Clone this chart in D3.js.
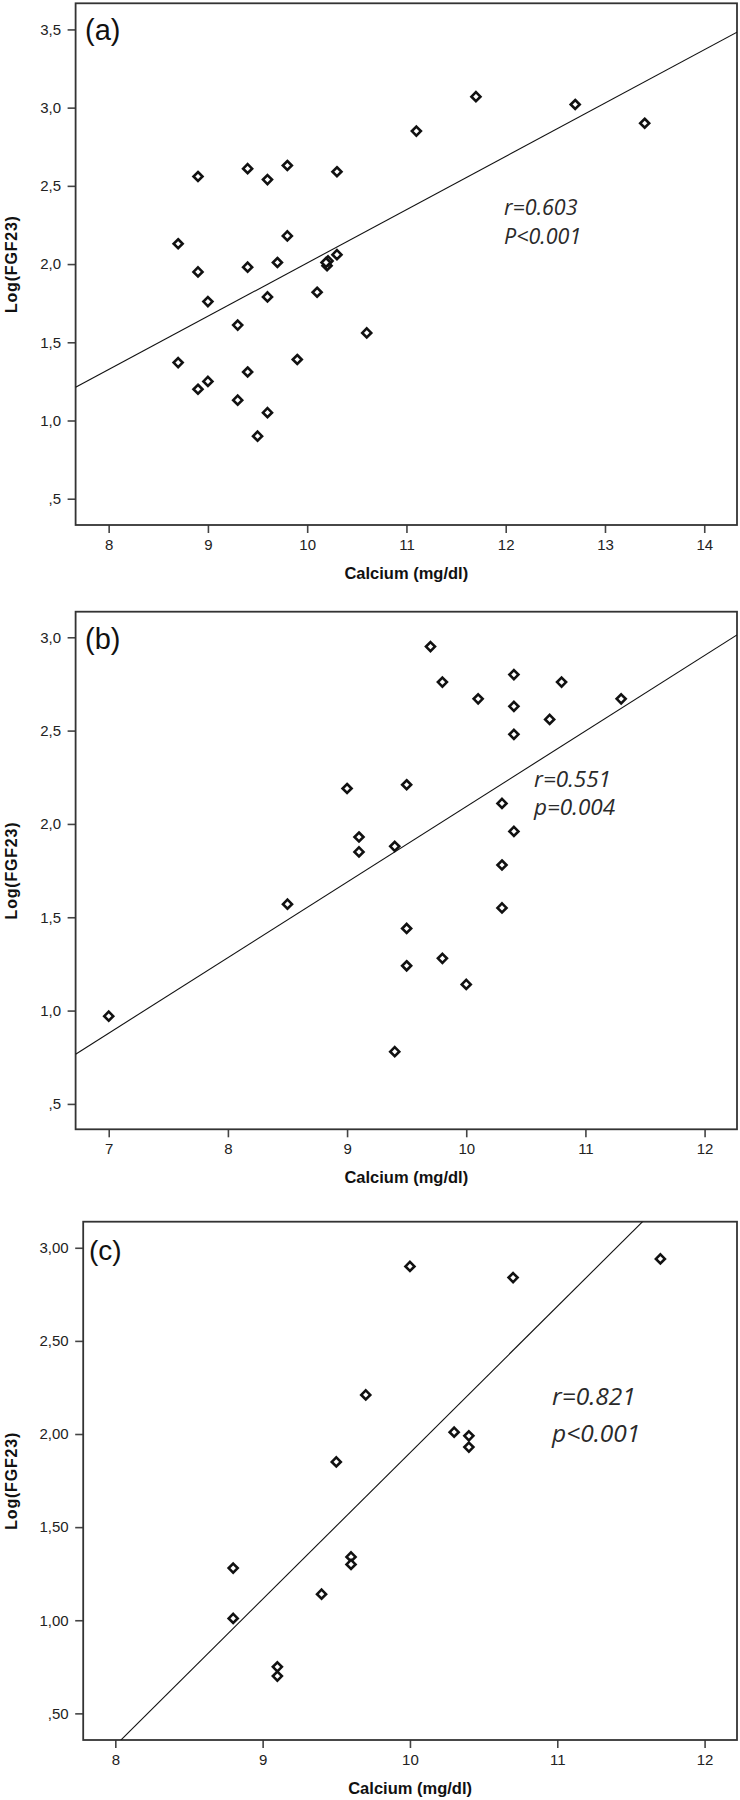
<!DOCTYPE html>
<html>
<head>
<meta charset="utf-8">
<script src="https://cdn.jsdelivr.net/npm/d3@7"></script>
<style>
  html, body { margin: 0; padding: 0; background: #fff; }
  svg { display: block; }
  .tick text { font-family: "Liberation Sans", Arial, sans-serif; font-size: 15px; fill: #222; }
  .tick line { stroke: #444; stroke-width: 1.6; }
</style>
</head>
<body>
<svg id="chart" width="740" height="1800"></svg>
<script>
// ---------- Panel (a) ----------
const calciumA = [11.7, 12.7, 13.4, 11.1, 8.9, 9.4, 9.6, 9.8, 10.3, 8.7, 9.8, 8.9, 9.4, 9.7, 10.2, 10.21, 10.19, 10.3,
                  9.0, 9.6, 10.1, 9.3, 10.6, 8.7, 9.9, 9.4, 9.0, 8.9, 9.3, 9.6, 9.5];
const fgfA     = [3.07, 3.02, 2.90, 2.85, 2.56, 2.61, 2.54, 2.63, 2.59, 2.13, 2.18, 1.95, 1.98, 2.01, 1.99, 2.02, 2.01, 2.06,
                  1.76, 1.79, 1.82, 1.61, 1.56, 1.37, 1.39, 1.31, 1.25, 1.20, 1.13, 1.05, 0.90];
const xTicksA = [8, 9, 10, 11, 12, 13, 14];
const xTickLabelsA = ["8", "9", "10", "11", "12", "13", "14"];
const yTicksA = [0.5, 1.0, 1.5, 2.0, 2.5, 3.0, 3.5];
const yTickLabelsA = [",5", "1,0", "1,5", "2,0", "2,5", "3,0", "3,5"];
const xDomainA = [7.667, 14.33];
const yDomainA = [0.332, 3.667];
const fitA = [-1.400, 0.3407];            // intercept, slope
const statsA = ["r=0.603", "P<0.001"];

// ---------- Panel (b) ----------
const calciumB = [9.7, 9.8, 10.4, 10.8, 10.1, 10.4, 11.3, 10.7, 10.4, 9.0, 9.5, 10.3, 10.4, 9.1, 9.1, 9.4, 10.3,
                  8.5, 10.3, 9.5, 9.8, 9.5, 10.0, 7.0, 9.4];
const fgfB     = [2.95, 2.76, 2.80, 2.76, 2.67, 2.63, 2.67, 2.56, 2.48, 2.19, 2.21, 2.11, 1.96, 1.93, 1.85, 1.88, 1.78,
                  1.57, 1.55, 1.44, 1.28, 1.24, 1.14, 0.97, 0.78];
const xTicksB = [7, 8, 9, 10, 11, 12];
const xTickLabelsB = ["7", "8", "9", "10", "11", "12"];
const yTicksB = [0.5, 1.0, 1.5, 2.0, 2.5, 3.0];
const yTickLabelsB = [",5", "1,0", "1,5", "2,0", "2,5", "3,0"];
const xDomainB = [6.722, 12.272];
const yDomainB = [0.364, 3.137];
const fitB = [-1.954, 0.4047];
const statsB = ["r=0.551", "p=0.004"];

// ---------- Panel (c) ----------
const calciumC = [11.7, 10.0, 10.7, 9.7, 10.3, 10.4, 10.4, 9.5, 8.8, 9.6, 9.6, 9.4, 8.8, 9.1, 9.1];
const fgfC     = [2.94, 2.90, 2.84, 2.21, 2.01, 1.99, 1.93, 1.85, 1.28, 1.34, 1.30, 1.14, 1.01, 0.75, 0.70];
const xTicksC = [8, 9, 10, 11, 12];
const xTickLabelsC = ["8", "9", "10", "11", "12"];
const yTicksC = [0.5, 1.0, 1.5, 2.0, 2.5, 3.0];
const yTickLabelsC = [",50", "1,00", "1,50", "2,00", "2,50", "3,00"];
const xDomainC = [7.782, 12.22];
const yDomainC = [0.357, 3.140];
const fitC = [-5.961, 0.786];
const statsC = ["r=0.821", "p<0.001"];

const panelLabels = ["(a)", "(b)", "(c)"];
const xTitle = "Calcium (mg/dl)";
const yTitle = "Log(FGF23)";

// ---------- Layout ----------
const svg = d3.select("#chart");

const panels = [
  { id: "a", xs: calciumA, ys: fgfA, xTicks: xTicksA, xLabels: xTickLabelsA, yTicks: yTicksA, yLabels: yTickLabelsA,
    xDomain: xDomainA, yDomain: yDomainA, fit: fitA, stats: statsA, label: panelLabels[0],
    left: 75.6, right: 737, top: 3.3, bottom: 525,
    statX: 504, statY: 215, statGap: 29, statSize: 21.5, labelX: 85, labelY: 40, labelSize: 29 },
  { id: "b", xs: calciumB, ys: fgfB, xTicks: xTicksB, xLabels: xTickLabelsB, yTicks: yTicksB, yLabels: yTickLabelsB,
    xDomain: xDomainB, yDomain: yDomainB, fit: fitB, stats: statsB, label: panelLabels[1],
    left: 75.6, right: 737, top: 611.7, bottom: 1129.3,
    statX: 534, statY: 786.5, statGap: 28.5, statSize: 22.5, labelX: 85, labelY: 649, labelSize: 29 },
  { id: "c", xs: calciumC, ys: fgfC, xTicks: xTicksC, xLabels: xTickLabelsC, yTicks: yTicksC, yLabels: yTickLabelsC,
    xDomain: xDomainC, yDomain: yDomainC, fit: fitC, stats: statsC, label: panelLabels[2],
    left: 83.2, right: 737, top: 1221.7, bottom: 1740,
    statX: 552, statY: 1405, statGap: 36.5, statSize: 24.5, labelX: 89, labelY: 1260, labelSize: 28 }
];

const diamond = r => `M0,${-r}L${r},0L0,${r}L${-r},0Z`;

panels.forEach(p => {
  const x = d3.scaleLinear().domain(p.xDomain).range([p.left, p.right]);
  const y = d3.scaleLinear().domain(p.yDomain).range([p.bottom, p.top]);
  const g = svg.append("g");

  g.append("clipPath").attr("id", "clip-" + p.id)
    .append("rect").attr("x", p.left).attr("y", p.top)
    .attr("width", p.right - p.left).attr("height", p.bottom - p.top);

  const xAxis = d3.axisBottom(x).tickValues(p.xTicks)
    .tickFormat((d, i) => p.xLabels[i]).tickSize(8).tickPadding(6).tickSizeOuter(0);
  const gx = g.append("g").attr("transform", `translate(0,${p.bottom})`).call(xAxis);
  gx.select(".domain").remove();

  const yAxis = d3.axisLeft(y).tickValues(p.yTicks)
    .tickFormat((d, i) => p.yLabels[i]).tickSize(8).tickPadding(6.5).tickSizeOuter(0);
  const gy = g.append("g").attr("transform", `translate(${p.left},0)`).call(yAxis);
  gy.select(".domain").remove();

  g.append("rect")
    .attr("x", p.left).attr("y", p.top)
    .attr("width", p.right - p.left).attr("height", p.bottom - p.top)
    .attr("fill", "none").attr("stroke", "#333").attr("stroke-width", 1.8);

  const fx = p.xDomain;
  g.append("line")
    .attr("clip-path", `url(#clip-${p.id})`)
    .attr("x1", x(fx[0])).attr("y1", y(p.fit[0] + p.fit[1] * fx[0]))
    .attr("x2", x(fx[1])).attr("y2", y(p.fit[0] + p.fit[1] * fx[1]))
    .attr("stroke", "#111").attr("stroke-width", 1.1);

  g.selectAll("path.pt").data(p.xs.map((v, i) => [v, p.ys[i]])).enter()
    .append("path").attr("class", "pt")
    .attr("transform", d => `translate(${x(d[0])},${y(d[1])})`)
    .attr("d", diamond(4.5))
    .attr("fill", "#fff").attr("stroke", "#111").attr("stroke-width", 2.6);

  g.append("text").attr("x", p.labelX).attr("y", p.labelY)
    .attr("font-family", "Liberation Sans, Arial, sans-serif")
    .attr("font-size", p.labelSize).attr("fill", "#111").text(p.label);

  p.stats.forEach((s, i) => {
    g.append("text").attr("x", p.statX).attr("y", p.statY + i * p.statGap)
      .attr("font-family", "Open Sans, sans-serif").attr("font-style", "italic").attr("font-weight", 400)
      .attr("font-size", p.statSize).attr("fill", "#2a2a2a").text(s);
  });

  g.append("text").attr("x", (p.left + p.right) / 2).attr("y", p.bottom + 54)
    .attr("text-anchor", "middle")
    .attr("font-family", "Liberation Sans, Arial, sans-serif").attr("font-weight", "bold")
    .attr("font-size", 16.5).attr("fill", "#111").text(xTitle);

  g.append("text")
    .attr("transform", `translate(17,${(p.top + p.bottom) / 2}) rotate(-90)`)
    .attr("text-anchor", "middle")
    .attr("font-family", "Liberation Sans, Arial, sans-serif").attr("font-weight", "bold")
    .attr("font-size", 16).attr("letter-spacing", 0.8).attr("fill", "#111").text(yTitle);
});
</script>
</body>
</html>
